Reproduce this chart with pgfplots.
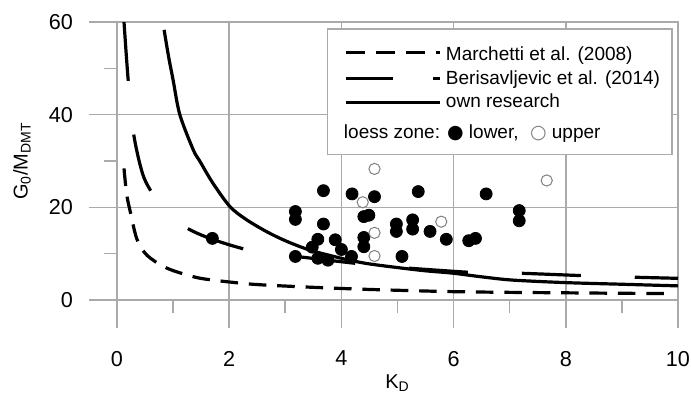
\documentclass[border=0pt]{standalone}
\usepackage{fontspec}
\setmainfont{Liberation Sans}
\newfontfamily\symfont{DejaVu Sans}
\usepackage{pgfplots}
\pgfplotsset{compat=1.18}

\definecolor{gridgray}{RGB}{170,170,170}

\begin{document}
\begin{tikzpicture}
\begin{axis}[
  at={(0,0)}, anchor=south west,
  scale only axis,
  width=280.5pt, height=139pt,
  xmin=0, xmax=10, ymin=0, ymax=60,
  xtick={0,2,...,10}, ytick={0,20,40,60},
  minor xtick={1,3,5,7,9}, minor ytick={10,30,50},
  grid=major,
  major grid style={gridgray, line width=0.8pt},
  axis line style={gridgray, line width=0.8pt},
  every tick/.append style={draw=gridgray, line width=0.8pt},
  major tick style={draw=gridgray},
  minor tick style={draw=gridgray},
  major tick length=14pt, minor tick length=6.5pt,
  tick align=outside, xtick pos=bottom, ytick pos=left,
  /pgf/number format/assume math mode=true,
  tick label style={font=\fontsize{10.8}{13}\selectfont, text=black},
  xticklabel style={yshift=-8pt},
  yticklabel style={xshift=-4.5pt},
  label style={font=\fontsize{10.8}{13}\selectfont},
  every axis x label/.style={at={(axis description cs:0.5,0)}, yshift=-41.5pt, anchor=center},
  every axis y label/.style={at={(axis description cs:0,0.5)}, xshift=-47.5pt, rotate=90, anchor=center},
  xlabel={K\textsubscript{D}},
  ylabel={G\textsubscript{0}/M\textsubscript{DMT}},
  legend image code/.code={\path (-4.5pt,0pt); \draw[#1] (0pt,0pt) -- (47pt,0pt);},
  legend style={at={(axis cs:10,60)}, anchor=north east, xshift=-2.7pt, yshift=-3.2pt,
    draw=gridgray, line width=0.6pt, fill=white,
    font=\fontsize{9.5}{11.4}\selectfont,
    inner xsep=4pt, inner ysep=4.7pt,
    nodes={text height=7.3pt, text depth=2.1pt, inner ysep=1.2pt}},
  legend cell align=left,
]

% Marchetti et al. (2008)
\addplot[black, line width=1.6pt, dash pattern=on 8.8pt off 5.4pt, smooth, forget plot] coordinates {
  (0.125,28.4) (0.17,23.0) (0.23,19.4) (0.35,13.3) (0.50,10.1) (0.68,8.3)
  (0.85,7.1) (1.06,6.1) (1.48,4.7) (2.07,3.8) (2.54,3.3) (3.38,2.8)
  (4.2,2.4) (5.0,2.1) (6.0,1.8) (7.0,1.65) (8.0,1.55) (9.0,1.45) (9.75,1.4)
};

% Berisavljevic et al. (2014)
\addplot[black, line width=1.6pt, dash pattern=on 29.5pt off 27pt, smooth, forget plot] coordinates {
  (0.125,60) (0.20,47.4) (0.30,35.6) (0.45,27.5) (0.60,23.6) (0.90,18.5)
  (1.28,15.3) (1.70,13.1) (2.27,11.0) (2.70,10.2) (3.20,9.4) (4.26,7.9)
  (4.70,7.4) (5.24,6.84) (6.28,5.98) (6.75,5.85) (7.23,5.76) (8.30,5.26)
  (8.80,5.1) (9.28,4.9) (10.0,4.68)
};

% own research
\addplot[black, line width=1.6pt, smooth, forget plot] coordinates {
  (0.84,58.3) (0.92,52.5) (1.00,47.5) (1.12,40.0) (1.36,32.4) (1.48,29.9)
  (1.70,25.4) (2.01,20.2) (2.30,17.4) (2.66,14.8) (3.00,12.8) (3.43,10.8)
  (4.00,9.0) (4.44,7.9) (5.00,7.0) (5.50,6.3) (5.98,5.8) (6.50,5.0)
  (7.05,4.3) (8.00,3.75) (9.00,3.4) (10.0,3.05)
};

% lower loess zone
\addplot[only marks, mark=*, mark size=3pt, black, forget plot] coordinates {
  (1.70,13.3)
  (3.18,19.1) (3.18,17.4) (3.18,9.4)
  (3.48,11.4) (3.58,13.1) (3.58,9.0)
  (3.68,23.6) (3.68,16.4) (3.76,8.6)
  (3.89,13.0) (4.00,10.9) (4.18,9.4) (4.19,22.9)
  (4.40,18.0) (4.49,18.3) (4.40,13.5) (4.40,11.5)
  (4.59,22.3)
  (4.98,16.4) (4.98,14.8) (5.08,9.4)
  (5.27,17.3) (5.27,15.3) (5.37,23.4)
  (5.58,14.8) (5.87,13.1)
  (6.27,12.8) (6.39,13.3) (6.58,22.9)
  (7.17,19.3) (7.17,17.1)
};

% upper loess zone
\addplot[only marks, mark=o, mark size=2.8pt, draw=gray, fill=white, line width=0.5pt, forget plot] coordinates {
  (4.38,21.1) (4.59,28.3) (4.59,14.5) (4.59,9.5) (5.78,16.9) (7.66,25.8)
};

\addlegendimage{black, line width=1.6pt, dash pattern=on 9.2pt off 5.8pt}
\addlegendentry[text height=9.8pt]{Marchetti et al. (2008)}
\addlegendimage{black, line width=1.6pt, dash pattern=on 23.5pt off 20pt}
\addlegendentry{Berisavljevic et al. (2014)}
\addlegendimage{black, line width=1.6pt}
\addlegendentry{own research}
\addlegendimage{empty legend}
\addlegendentry[text height=11pt]{\hspace*{-51pt}loess zone: {\symfont ●} lower,\hspace{0.6em}{\color{gray}\symfont ○} upper}

\end{axis}
\pgfresetboundingbox
\useasboundingbox (-58.5pt,-48.5pt) rectangle (287pt,150pt);
\end{tikzpicture}
\end{document}
